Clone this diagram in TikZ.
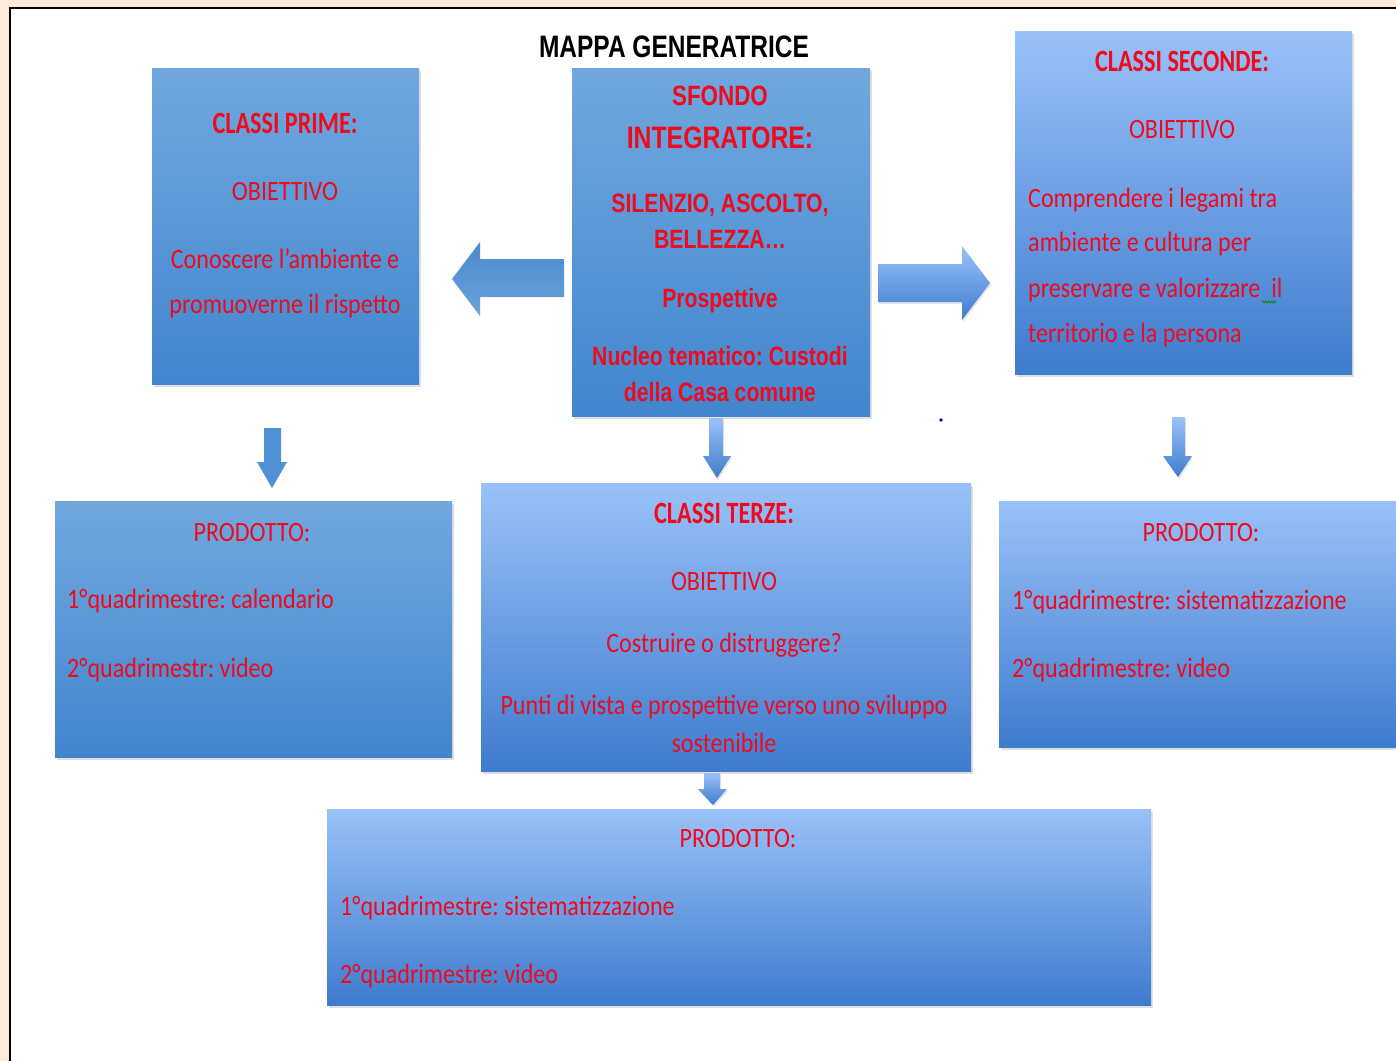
\documentclass[tikz,border=0pt]{standalone}
\usepackage{fontspec}
\setmainfont{Carlito}
\newfontfamily\bodyf{Carlito}[FakeStretch=0.86]
\newfontfamily\headf{Carlito}[FakeStretch=0.78]
\newfontfamily\arialf{Liberation Sans}[FakeStretch=0.8]
\newfontfamily\titlef{Liberation Sans}[FakeStretch=0.79]
\usetikzlibrary{shadows,decorations.pathmorphing}
\definecolor{peach}{RGB}{253,234,218}
\definecolor{txtred}{RGB}{240,10,30}
\definecolor{midtop}{RGB}{112,168,222}
\definecolor{midbot}{RGB}{66,134,206}
\definecolor{lighttop}{RGB}{154,193,248}
\definecolor{lightbot}{RGB}{62,124,206}
\definecolor{arrowblue}{RGB}{80,145,214}
\tikzset{
  box/.style={rectangle, inner sep=0pt, draw=none,
    drop shadow={shadow xshift=2pt, shadow yshift=-3pt, opacity=0.25}},
  midbox/.style={box, top color=midtop, bottom color=midbot},
  lightbox/.style={box, top color=lighttop, bottom color=lightbot},
  body/.style={text=txtred, font=\bodyf\fontsize{28}{32}\selectfont\frenchspacing, inner sep=0pt, anchor=base},
  bodyl/.style={body, anchor=base west},
  head/.style={text=txtred, font=\headf\bfseries\fontsize{31}{34}\selectfont\frenchspacing, inner sep=0pt, anchor=base},
  arhead/.style={text=txtred, font=\arialf\bfseries\fontsize{26.5}{30}\selectfont\frenchspacing, inner sep=0pt, anchor=base},
  darrow/.style={top color=lighttop, bottom color=lightbot, draw=none,
    drop shadow={shadow xshift=1pt, shadow yshift=-2pt, opacity=0.2}},
}
\begin{document}
\begin{tikzpicture}[x=1pt,y=-1pt]
\useasboundingbox (0,0) rectangle (1396,1061);
\fill[peach] (0,0) rectangle (1396,1061);
\fill[white] (9,7) rectangle (1396,1061);
\draw[black, line width=2.2pt] (10,1061) -- (10,8) -- (1396,8);

% boxes
\node[midbox, minimum width=267pt, minimum height=316pt] (prime) at (285.5,226) {};
\node[midbox, minimum width=298pt, minimum height=348pt] (sfondo) at (721,242) {};
\node[lightbox, minimum width=337pt, minimum height=343pt] (seconde) at (1183.5,202.5) {};
\node[midbox, minimum width=397pt, minimum height=256pt] (prodA) at (253.5,629) {};
\node[lightbox, minimum width=490pt, minimum height=288pt] (terze) at (726,627) {};
\node[lightbox, minimum width=410pt, minimum height=246pt] (prodC) at (1204,624) {};
\node[lightbox, minimum width=824pt, minimum height=196pt] (prodB) at (739,907) {};

% block arrows
\path[top color=arrowblue!95!black, bottom color=arrowblue!85!white]
  (564,259) -- (480,259) -- (480,242) -- (452,279) -- (480,316) -- (480,297) -- (564,297) -- cycle;
\path[darrow]
  (878,264) -- (962,264) -- (962,246) -- (990,283) -- (962,320) -- (962,302) -- (878,302) -- cycle;
\path[fill=arrowblue]
  (264,428) -- (281,428) -- (281,462) -- (287,462) -- (272,488) -- (257,462) -- (264,462) -- cycle;
\path[darrow]
  (709,418) -- (723,418) -- (723,456) -- (731,456) -- (717,478) -- (703,456) -- (709,456) -- cycle;
\path[darrow]
  (1172,417) -- (1185,417) -- (1185,456) -- (1192,456) -- (1178,477) -- (1163,456) -- (1172,456) -- cycle;
\path[darrow]
  (704,773) -- (720,773) -- (720,789) -- (727,789) -- (713,805) -- (698,789) -- (704,789) -- cycle;
\fill[blue!80!black] (941,420) circle (1.8pt);

% title
\node[font=\titlef\bfseries\fontsize{31}{34}\selectfont, inner sep=0pt, anchor=base] (title) at (674,57) {MAPPA GENERATRICE};

% classi prime
\node[head] (p1) at (285,133) {CLASSI PRIME:};
\node[body] (p2) at (285,200) {OBIETTIVO};
\node[body] (p3) at (285,268) {Conoscere l’ambiente e};
\node[body] (p4) at (285,313) {promuoverne il rispetto};

% sfondo
\node[arhead, font=\arialf\bfseries\fontsize{28}{30}\selectfont] (s1) at (720,105) {SFONDO};
\node[arhead, font=\arialf\bfseries\fontsize{31}{34}\selectfont] (s2) at (720,148) {INTEGRATORE:};
\node[arhead] (s3) at (720,212) {SILENZIO, ASCOLTO,};
\node[arhead] (s4) at (720,248) {BELLEZZA…};
\node[arhead] (s5) at (720,307) {Prospettive};
\node[arhead] (s6) at (720,365) {Nucleo tematico: Custodi};
\node[arhead] (s7) at (720,401) {della Casa comune};

% seconde
\node[head] (c1) at (1182,71) {CLASSI SECONDE:};
\node[body] (c2) at (1182,138) {OBIETTIVO};
\node[bodyl] (c3) at (1028,207) {Comprendere i legami tra};
\node[bodyl] (c4) at (1028,251) {ambiente e cultura per};
\node[bodyl] (c5) at (1028,297) {preservare e valorizzare \ il};
\node[bodyl] (c6) at (1028,342) {territorio e la persona};
\draw[green!55!black, line width=0.8pt, decorate, decoration={zigzag, amplitude=1pt, segment length=3pt}]
  (1262,302) -- (1276,302);

% prodotto left
\node[body] (a1) at (252,541) {PRODOTTO:};
\node[bodyl] (a2) at (67,608) {1°quadrimestre: calendario};
\node[bodyl] (a3) at (67,677) {2°quadrimestr: video};

% terze
\node[head] (t1) at (724,523) {CLASSI TERZE:};
\node[body] (t2) at (724,590) {OBIETTIVO};
\node[body] (t3) at (724,652) {Costruire o distruggere?};
\node[body] (t4) at (724,714) {Punti di vista e prospettive verso uno sviluppo};
\node[body] (t5) at (724,752) {sostenibile};

% prodotto right
\node[body] (r1) at (1201,541) {PRODOTTO:};
\node[bodyl] (r2) at (1012,609) {1°quadrimestre: sistematizzazione};
\node[bodyl] (r3) at (1012,677) {2°quadrimestre: video};

% prodotto bottom
\node[body] (b1) at (738,847) {PRODOTTO:};
\node[bodyl] (b2) at (340,915) {1°quadrimestre: sistematizzazione};
\node[bodyl] (b3) at (340,983) {2°quadrimestre: video};
\end{tikzpicture}
\end{document}
